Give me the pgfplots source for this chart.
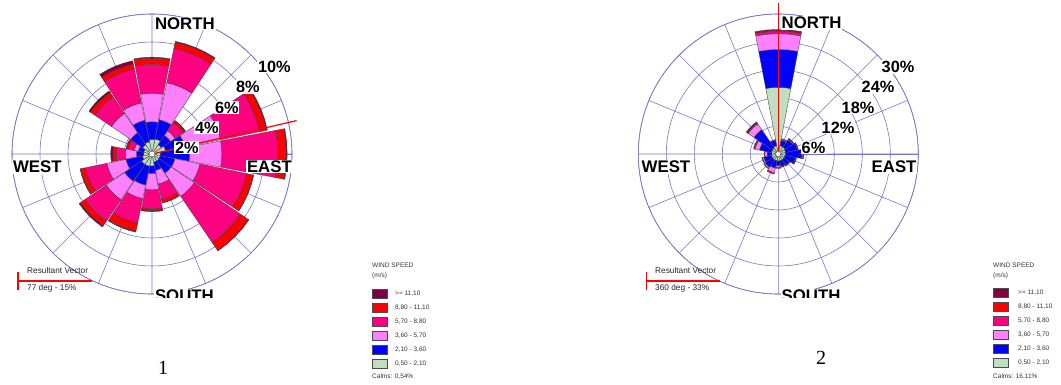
\documentclass[border=0pt]{standalone}
\usepackage{fontspec}
\setmainfont{Liberation Sans}
\newfontfamily\capserif{Liberation Serif}
\usepackage{pgfplots}
\usepackage{pgfplotstable}
\usepgfplotslibrary{polar}
\pgfplotsset{compat=1.18}

\definecolor{wsG}{RGB}{192,222,192}
\definecolor{wsB}{RGB}{0,0,255}
\definecolor{wsLP}{RGB}{255,128,255}
\definecolor{wsM}{RGB}{255,0,128}
\definecolor{wsR}{RGB}{255,0,0}
\definecolor{wsD}{RGB}{128,0,64}
\definecolor{gridc}{RGB}{118,118,200}

% bearing (deg) and frequency (%) per speed class
\pgfplotstableread{
dir   g    b    lp   m    r    d
0     1.05 1.25 2.05 2.05 0.45 0.07
22.5  1.1  1.4  2.7  2.5  0.45 0.07
45    0.8  0.8  0.4  0.7  0.15 0.05
67.5  1.0  1.4  2.6  2.85 0.5  0.07
90    0.62 2.08 2.3  4.0  0.6  0.06
112.5 0.6  1.07 1.83 3.4  0.5  0.02
135   0.6  1.05 2.01 3.99 0.7  0.02
157.5 0.6  0.6  1.0  1.1  0.25 0.02
180   0.86 0.54 1.17 1.33 0.15 0.07
202.5 0.9  1.37 0.99 1.79 0.6  0.05
225   0.9  1.46 1.59 1.85 0.4  0.1
247.5 0.7  1.2  1.4  1.55 0.35 0.05
270   0.6  0.5  0.8  0.65 0.25 0.15
292.5 0.6  0.4  0.3  0.4  0.15 0.05
315   0.8  1.04 1.66 1.45 0.35 0.15
337.5 0.9  1.56 1.27 2.47 0.36 0.24
}\roseA

\pgfplotstableread{
dir   g    b    lp   m    r    d
0     14.3 8.1  3.4  0.5  0.2  0.2
22.5  1.8  1.2  0.2  0.15 0    0
45    1.8  1.9  0.2  0.15 0    0
67.5  1.6  2.6  0.15 0.05 0    0
90    1.5  3.6  0.2  0.2  0    0
112.5 1.5  2.3  0.15 0.05 0    0
135   1.5  1.4  0.1  0.05 0    0
157.5 1.5  1.2  0.1  0.1  0    0
180   1.5  1.0  0.3  0.3  0    0
202.5 1.5  1.6  1.0  0.3  0    0
225   1.5  1.9  0.3  0.1  0    0
247.5 1.5  1.7  0.3  0.1  0    0
270   1.4  1.0  0.5  0.1  0    0
292.5 1.5  2.6  1.0  0.2  0.1  0
315   1.6  4.7  1.5  0.25 0.1  0.15
337.5 1.8  1.2  0.1  0.05 0    0
}\roseB

\newcommand\drawrose[2]{%
  \pgfplotstablegetrowsof{#1}%
  \pgfmathtruncatemacro\lastrow{\pgfplotsretval-1}%
  \foreach \i in {0,...,\lastrow}{%
    \pgfplotstablegetelem{\i}{dir}\of{#1}%
    \pgfmathsetmacro\angC{90-\pgfplotsretval}%
    \pgfmathsetmacro\angA{\angC-#2}%
    \pgfmathsetmacro\angB{\angC-#2/2}%
    \pgfmathsetmacro\angD{\angC+#2/2}%
    \pgfmathsetmacro\angE{\angC+#2}%
    \xdef\rzero{0}%
    \foreach \col/\cc in {g/wsG,b/wsB,lp/wsLP,m/wsM,r/wsR,d/wsD}{%
      \pgfplotstablegetelem{\i}{\col}\of{#1}%
      \let\inc\pgfplotsretval
      \pgfmathsetmacro\rone{\rzero+\inc}%
      \ifdim\inc pt>0pt
        \edef\tmp{\noexpand\addplot[draw=black!75,line width=0.35pt,fill=\cc] coordinates {(\angA,\rzero) (\angA,\rone) (\angB,\rone) (\angC,\rone) (\angD,\rone) (\angE,\rone) (\angE,\rzero) (\angD,\rzero) (\angC,\rzero) (\angB,\rzero) (\angA,\rzero)};}%
        \tmp
      \fi
      \xdef\rzero{\rone}%
    }%
  }%
}

\pgfplotsset{rosestyle/.style={
  width=280pt,height=280pt,scale only axis,anchor=center,
  xmin=0,xmax=360,ymin=0,
  xtick={0,22.5,...,337.5},xticklabels={},yticklabels={},
  major tick length=0pt,grid=major,
  major grid style={draw=gridc,line width=0.6pt},
  axis line style={draw=gridc,line width=0.6pt},
  clip=false}}

\tikzset{big/.style={font=\fontsize{16.8}{18}\selectfont\bfseries,fill=white,inner sep=0.8pt,anchor=west},
  pct/.style={font=\fontsize{16.3}{18}\selectfont\bfseries,fill=white,inner sep=0.8pt,anchor=west},
  small/.style={font=\fontsize{6.5}{7}\selectfont,text=black!80,inner sep=0pt,anchor=west},
  rv/.style={font=\fontsize{8.3}{9}\selectfont,text=black!85,inner sep=0pt,anchor=west}}

\begin{document}
\begin{tikzpicture}
\path[use as bounding box] (0pt,0pt) rectangle (1061pt,-385pt);

% ---------------- chart 1 ----------------
\begin{scope}
\clip (0pt,0pt) rectangle (320pt,-297pt);
\begin{polaraxis}[rosestyle,at={(152pt,-154pt)},ymax=10,ytick={2,4,6,8,10}]
\drawrose{\roseA}{10.8}
\addplot[only marks,mark=*,mark size=2.8pt,mark options={fill=white,draw=black!60,line width=0.3pt}] coordinates {(0,0)};
\addplot[wsR,line width=1.2pt] coordinates {(13,0.25) (13,10.6)};
\end{polaraxis}
\node[big] at (154pt,-23.5pt) {NORTH};
\node[big] at (12pt,-167pt) {WEST};
\node[big] at (246pt,-166.5pt) {EAST};
\node[big,anchor=north west] at (154pt,-289pt) {SOUTH};
\node[pct] at (257pt,-66.5pt) {10\%};
\node[pct] at (235pt,-87pt) {8\%};
\node[pct] at (214pt,-107.5pt) {6\%};
\node[pct] at (194pt,-127.5pt) {4\%};
\node[pct] at (174pt,-147.5pt) {2\%};
\end{scope}
\draw[wsR,line width=1.2pt] (18pt,-272pt) -- (18pt,-290pt);
\draw[wsR,line width=1.2pt] (18pt,-281pt) -- (92pt,-281pt);
\node[rv] at (27pt,-271pt) {Resultant Vector};
\node[rv] at (27pt,-288.5pt) {77 deg - 15\%};
\node[font=\capserif\fontsize{20}{22}\selectfont] at (163pt,-368pt) {1};

% legend 1
\node[small] at (372pt,-265pt) {WIND SPEED};
\node[small] at (372pt,-276pt) {(m/s)};
\foreach \k/\cc/\lab in {0/wsD/{>= 11,10},1/wsR/{8,80 - 11,10},2/wsM/{5,70 - 8,80},3/wsLP/{3,60 - 5,70},4/wsB/{2,10 - 3,60},5/wsG/{0,50 - 2,10}}{
  \draw[black!70,line width=0.4pt,fill=\cc] (372pt,{-289pt-14pt*\k}) rectangle ++(15pt,-9pt);
  \node[small] at (395pt,{-293.5pt-14pt*\k}) {\lab};
}
\node[small] at (372pt,-377pt) {Calms: 0,54\%};

% ---------------- chart 2 ----------------
\begin{scope}
\clip (626pt,0pt) rectangle (950pt,-297pt);
\begin{polaraxis}[rosestyle,at={(778.3pt,-154pt)},ymax=30,ytick={6,12,18,24,30}]
\drawrose{\roseB}{10.8}
\addplot[only marks,mark=*,mark size=2.5pt,mark options={fill=white,draw=black!60,line width=0.3pt}] coordinates {(0,0)};
\addplot[wsR,line width=1.2pt] coordinates {(90,0.5) (90,32.4)};
\end{polaraxis}
\node[big] at (780.7pt,-23pt) {NORTH};
\node[big] at (640.7pt,-167pt) {WEST};
\node[big] at (870.7pt,-167pt) {EAST};
\node[big,anchor=north west] at (780.7pt,-289pt) {SOUTH};
\node[pct] at (880.7pt,-67pt) {30\%};
\node[pct] at (860.7pt,-87pt) {24\%};
\node[pct] at (840.7pt,-107.5pt) {18\%};
\node[pct] at (820.7pt,-127.5pt) {12\%};
\node[pct] at (800.7pt,-147.5pt) {6\%};
\end{scope}
\draw[wsR,line width=1.2pt] (646.7pt,-272pt) -- (646.7pt,-290pt);
\draw[wsR,line width=1.2pt] (646.7pt,-281pt) -- (720pt,-281pt);
\node[rv] at (655pt,-271pt) {Resultant Vector};
\node[rv] at (655pt,-288.5pt) {360 deg - 33\%};
\node[font=\capserif\fontsize{20}{22}\selectfont] at (821pt,-358pt) {2};

% legend 2
\node[small] at (993pt,-265pt) {WIND SPEED};
\node[small] at (993pt,-276pt) {(m/s)};
\foreach \k/\cc/\lab in {0/wsD/{>= 11,10},1/wsR/{8,80 - 11,10},2/wsM/{5,70 - 8,80},3/wsLP/{3,60 - 5,70},4/wsB/{2,10 - 3,60},5/wsG/{0,50 - 2,10}}{
  \draw[black!70,line width=0.4pt,fill=\cc] (993.3pt,{-288.5pt-14pt*\k}) rectangle ++(15pt,-9pt);
  \node[small] at (1018pt,{-293pt-14pt*\k}) {\lab};
}
\node[small] at (993pt,-377pt) {Calms: 16,11\%};
\end{tikzpicture}
\end{document}
